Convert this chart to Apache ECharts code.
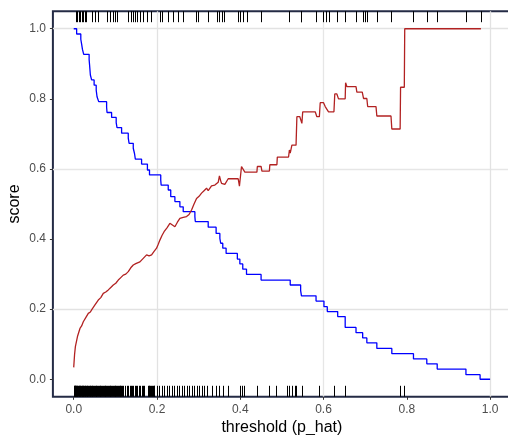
<!DOCTYPE html>
<html>
<head>
<meta charset="utf-8">
<script src="https://cdn.jsdelivr.net/npm/echarts@6/dist/echarts.min.js"></script>
<style>
  html, body { margin: 0; padding: 0; background: #fff; }
  #chart { width: 508px; height: 435px; }
</style>
</head>
<body>
<div id="chart"></div>
<script>
// sensitivity-like curve (blue), step 'hv'
const blueX = [0.000, 0.007, 0.017, 0.019, 0.021, 0.024, 0.037, 0.038, 0.039, 0.040, 0.043, 0.049, 0.054, 0.056, 0.060,
  0.079, 0.080, 0.091, 0.102, 0.104, 0.115, 0.131, 0.133, 0.143, 0.146, 0.148, 0.163, 0.177, 0.182, 0.209, 0.210,
  0.227, 0.233, 0.243, 0.255, 0.263, 0.291, 0.292, 0.323, 0.342, 0.351, 0.353, 0.358, 0.366, 0.393, 0.399, 0.406,
  0.415, 0.450, 0.520, 0.545, 0.547, 0.582, 0.601, 0.609, 0.634, 0.652, 0.678, 0.694, 0.704, 0.728, 0.764, 0.816,
  0.848, 0.873, 0.942, 0.976, 1.000];
const blueY = [1.000, 0.985, 0.970, 0.956, 0.941, 0.927, 0.912, 0.898, 0.883, 0.868, 0.854, 0.839, 0.825, 0.806, 0.792,
  0.776, 0.761, 0.747, 0.732, 0.718, 0.702, 0.688, 0.673, 0.659, 0.644, 0.628, 0.614, 0.597, 0.583, 0.568, 0.554,
  0.540, 0.521, 0.507, 0.492, 0.478, 0.464, 0.450, 0.434, 0.416, 0.402, 0.388, 0.374, 0.359, 0.343, 0.329, 0.314,
  0.299, 0.283, 0.269, 0.253, 0.238, 0.223, 0.207, 0.193, 0.179, 0.148, 0.133, 0.118, 0.104, 0.088, 0.073, 0.058,
  0.044, 0.029, 0.013, 0.000, 0.000];

// precision-like curve (red), vertices as seen
const redX = [0.000, 0.002, 0.004, 0.009, 0.015, 0.019, 0.023, 0.030, 0.035, 0.040, 0.043, 0.047, 0.051, 0.055, 0.059,
  0.065, 0.071, 0.077, 0.083, 0.089, 0.095, 0.101, 0.107, 0.113, 0.119, 0.125, 0.131, 0.137, 0.143, 0.149, 0.159,
  0.167, 0.175, 0.181, 0.187, 0.193, 0.199, 0.203, 0.207, 0.212, 0.217, 0.224, 0.231, 0.237, 0.243, 0.249, 0.255,
  0.263, 0.271, 0.277, 0.283, 0.289, 0.295, 0.301, 0.307, 0.313, 0.319, 0.323, 0.327, 0.331, 0.335, 0.339, 0.343,
  0.347, 0.350, 0.353, 0.355, 0.363, 0.371, 0.395, 0.398, 0.403, 0.411, 0.440, 0.441, 0.450, 0.452, 0.470, 0.471,
  0.488, 0.489, 0.516, 0.518, 0.520, 0.524, 0.534, 0.536, 0.543, 0.548, 0.550, 0.580, 0.584, 0.590, 0.592, 0.600,
  0.604, 0.612, 0.625, 0.627, 0.632, 0.636, 0.652, 0.653, 0.656, 0.678, 0.680, 0.693, 0.696, 0.704, 0.706, 0.726,
  0.728, 0.762, 0.764, 0.784, 0.785, 0.794, 0.795, 0.978];
const redY = [0.034, 0.070, 0.093, 0.122, 0.145, 0.152, 0.164, 0.178, 0.188, 0.192, 0.198, 0.203, 0.212, 0.216, 0.226,
  0.233, 0.245, 0.249, 0.255, 0.262, 0.269, 0.274, 0.283, 0.290, 0.297, 0.300, 0.307, 0.318, 0.326, 0.330, 0.335,
  0.345, 0.355, 0.352, 0.355, 0.365, 0.374, 0.385, 0.397, 0.410, 0.421, 0.432, 0.445, 0.440, 0.435, 0.448, 0.459,
  0.462, 0.464, 0.470, 0.483, 0.500, 0.516, 0.522, 0.531, 0.538, 0.545, 0.538, 0.540, 0.552, 0.557, 0.554, 0.554,
  0.562, 0.580, 0.566, 0.559, 0.556, 0.572, 0.572, 0.551, 0.607, 0.591, 0.591, 0.607, 0.607, 0.594, 0.594, 0.612,
  0.612, 0.634, 0.634, 0.654, 0.645, 0.668, 0.668, 0.749, 0.749, 0.730, 0.763, 0.763, 0.749, 0.749, 0.789, 0.789,
  0.778, 0.763, 0.763, 0.814, 0.814, 0.800, 0.800, 0.846, 0.835, 0.835, 0.819, 0.819, 0.801, 0.801, 0.778, 0.778,
  0.751, 0.751, 0.714, 0.714, 0.833, 0.833, 1.000, 1.000];

// rug: p_hat of observed positives (top) and negatives (bottom)
const rugTop = [0.005, 0.008, 0.012, 0.015, 0.019, 0.023, 0.026, 0.030, 0.043, 0.051, 0.058, 0.079, 0.087, 0.094, 0.099,
  0.105, 0.131, 0.137, 0.142, 0.147, 0.153, 0.159, 0.167, 0.175, 0.185, 0.207, 0.211, 0.227, 0.239, 0.251, 0.263,
  0.294, 0.299, 0.323, 0.343, 0.350, 0.355, 0.362, 0.395, 0.399, 0.406, 0.415, 0.451, 0.518, 0.545, 0.547, 0.582,
  0.598, 0.606, 0.612, 0.633, 0.652, 0.678, 0.694, 0.700, 0.705, 0.728, 0.762, 0.816, 0.848, 0.872, 0.942, 0.978];
const rugBottom = [0.000, 0.001, 0.002, 0.003, 0.004, 0.005, 0.006, 0.008, 0.009, 0.010, 0.012, 0.013, 0.014, 0.016,
  0.017, 0.019, 0.020, 0.022, 0.023, 0.025, 0.026, 0.028, 0.030, 0.031, 0.033, 0.035, 0.036, 0.038, 0.040, 0.042,
  0.043, 0.045, 0.047, 0.049, 0.051, 0.053, 0.054, 0.056, 0.058, 0.060, 0.062, 0.064, 0.066, 0.068, 0.070, 0.072,
  0.074, 0.076, 0.078, 0.080, 0.082, 0.084, 0.086, 0.088, 0.090, 0.092, 0.094, 0.096, 0.098, 0.100, 0.102, 0.104,
  0.106, 0.108, 0.110, 0.112, 0.114, 0.116, 0.118,
  0.124, 0.127, 0.130, 0.134, 0.137, 0.140, 0.143, 0.147, 0.150, 0.153, 0.156, 0.160, 0.163, 0.166, 0.169,
  0.178, 0.180, 0.182, 0.184, 0.186, 0.188, 0.190, 0.192, 0.194, 0.199, 0.205, 0.211, 0.217, 0.223, 0.230, 0.235,
  0.241, 0.247, 0.254, 0.259, 0.265, 0.271, 0.278, 0.283, 0.289, 0.295, 0.302, 0.307, 0.313, 0.319,
  0.333, 0.341, 0.349, 0.359, 0.371, 0.399, 0.405, 0.409, 0.440, 0.470, 0.485, 0.513, 0.518, 0.524, 0.532, 0.534,
  0.549, 0.590, 0.625, 0.652, 0.784, 0.794];

const tickValues = [0, 0.2, 0.4, 0.6, 0.8, 1.0];

const chart = echarts.init(document.getElementById('chart'));

// lines every 0.05 from -0.05: hidden, major, hidden, minor, ...
const gridLineColors = ['rgba(0,0,0,0)', '#e2e2e2', 'rgba(0,0,0,0)', '#e6e6e6'];

function axisCommon(name, nameGap) {
  return {
    type: 'value',
    min: -0.05,
    max: 1.05,
    interval: 0.05,
    name: name,
    nameLocation: 'middle',
    nameGap: nameGap,
    nameMoveOverlap: false,
    nameTextStyle: { color: '#000', fontSize: 16, fontFamily: 'Liberation Sans' },
    axisLine: { show: false, onZero: false },
    axisTick: { show: true, customValues: tickValues, length: 3, lineStyle: { color: '#333', width: 1 } },
    axisLabel: {
      customValues: tickValues,
      formatter: (v) => v.toFixed(1),
      color: '#4d4d4d',
      fontSize: 12,
      fontFamily: 'Liberation Sans',
      margin: 7,
    },
    splitLine: { show: true, lineStyle: { color: gridLineColors, width: 1.3 } },
  };
}

function rugSeries(values, yVal, dir) {
  return {
    type: 'custom',
    coordinateSystem: 'cartesian2d',
    data: values.map((v) => [v, yVal]),
    z: 5,
    silent: true,
    renderItem: (params, api) => {
      const p = api.coord([api.value(0), api.value(1)]);
      const x = Math.round(p[0]) + 0.5;
      return {
        type: 'line',
        shape: { x1: x, y1: p[1], x2: x, y2: p[1] + dir * 11 },
        style: { stroke: '#000', lineWidth: 1 },
      };
    },
  };
}

const option = {
  animation: false,
  backgroundColor: '#fff',
  grid: {
    left: 52.9,
    top: 11.2,
    width: 458,
    height: 385.6,
    containLabel: false,
    outerBoundsMode: 'none',
    show: true,
    borderColor: '#242b45',
    borderWidth: 2,
    backgroundColor: '#fff',
  },
  xAxis: axisCommon('threshold (p_hat)', 22.5),
  yAxis: axisCommon('score', 30),
  series: [
    {
      name: 'blue',
      type: 'line',
      step: 'end',
      data: blueX.map((x, i) => [x, blueY[i]]),
      showSymbol: false,
      lineStyle: { color: '#0000ff', width: 1.3 },
      z: 3,
    },
    {
      name: 'red',
      type: 'line',
      data: redX.map((x, i) => [x, redY[i]]),
      showSymbol: false,
      lineStyle: { color: '#b22222', width: 1.3 },
      z: 4,
    },
    rugSeries(rugTop, 1.05, 1),
    rugSeries(rugBottom, -0.05, -1),
  ],
};

chart.setOption(option);
</script>
</body>
</html>
